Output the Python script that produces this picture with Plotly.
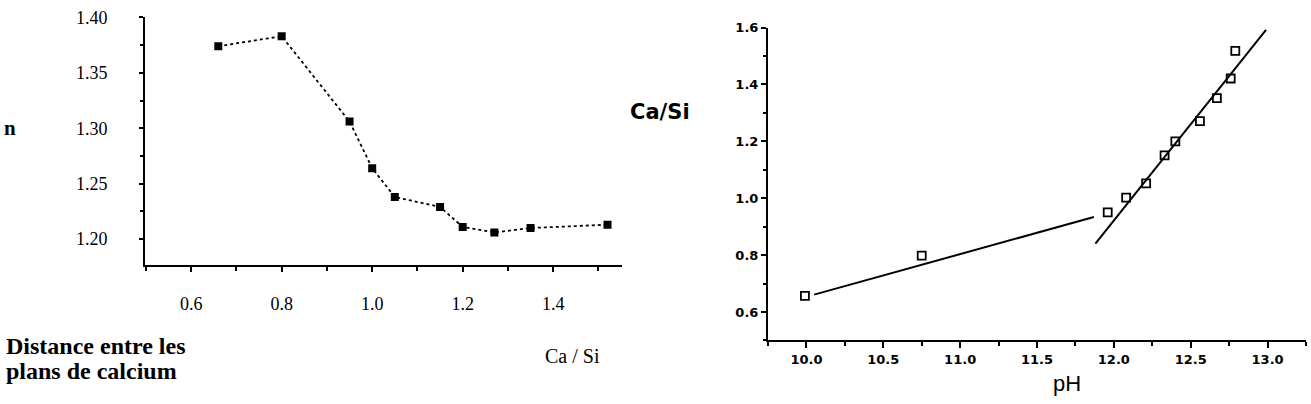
import plotly.graph_objects as go

# ---- Left chart data: distance between calcium planes vs Ca/Si ----
left_ca_si = [0.66, 0.80, 0.95, 1.00, 1.05, 1.15, 1.20, 1.27, 1.35, 1.52]
left_distance = [1.374, 1.383, 1.306, 1.264, 1.238, 1.229, 1.211, 1.206, 1.210, 1.213]

# ---- Right chart data: Ca/Si vs pH ----
right_ph = [9.99, 10.75, 11.96, 12.08, 12.21, 12.33, 12.40, 12.56, 12.67, 12.76, 12.79]
right_ca_si = [0.657, 0.798, 0.950, 1.002, 1.052, 1.151, 1.200, 1.271, 1.352, 1.421, 1.518]

# fitted straight lines (end points)
fit_low_ph = [10.05, 11.87]
fit_low_ca = [0.661, 0.934]
fit_high_ph = [11.88, 12.99]
fit_high_ca = [0.840, 1.592]

W, H = 1311, 404
fig = go.Figure()

fig.add_trace(go.Scatter(
    x=left_ca_si, y=left_distance, mode="lines+markers",
    line=dict(color="black", width=1.8, dash="dot"),
    marker=dict(symbol="square", size=8, color="black"),
    xaxis="x", yaxis="y", showlegend=False, hoverinfo="skip"))

fig.add_trace(go.Scatter(
    x=fit_low_ph, y=fit_low_ca, mode="lines",
    line=dict(color="black", width=2),
    xaxis="x2", yaxis="y2", showlegend=False, hoverinfo="skip"))
fig.add_trace(go.Scatter(
    x=fit_high_ph, y=fit_high_ca, mode="lines",
    line=dict(color="black", width=2),
    xaxis="x2", yaxis="y2", showlegend=False, hoverinfo="skip"))
fig.add_trace(go.Scatter(
    x=right_ph, y=right_ca_si, mode="markers",
    marker=dict(symbol="square-open", size=8, color="black", line=dict(width=1.8)),
    xaxis="x2", yaxis="y2", showlegend=False, hoverinfo="skip"))

serif = "Liberation Serif"
sans = "DejaVu Sans"

def px_x(p):
    return p / W

def px_y(p):
    return 1 - p / H

axis_common = dict(showline=True, linecolor="black", linewidth=2, showgrid=False,
                   zeroline=False, mirror=False, tickcolor="black", tickwidth=1.5)

fig.update_layout(
    width=W, height=H, margin=dict(l=0, r=0, t=0, b=0),
    paper_bgcolor="white", plot_bgcolor="white",
    xaxis=dict(domain=[px_x(145), px_x(622)], range=[0.498, 1.552], anchor="y",
               tick0=0.6, dtick=0.2, tickformat=".1f", ticks="outside", ticklen=5,
               minor=dict(dtick=0.1, ticks="outside", ticklen=4, tickcolor="black", showgrid=False),
               tickfont=dict(family=serif, size=18, color="black"), ticklabelstandoff=16,
               **axis_common),
    yaxis=dict(domain=[px_y(262), px_y(8)], range=[1.1765, 1.4005], anchor="x",
               tick0=1.2, dtick=0.05, tickformat=".2f", ticks="outside", ticklen=4,
               minor=dict(dtick=0.025, ticks="outside", ticklen=3, tickcolor="black", showgrid=False),
               tickfont=dict(family=serif, size=18, color="black"), ticklabelstandoff=28,
               **axis_common),
    xaxis2=dict(domain=[px_x(768), px_x(1306)], range=[9.75, 13.25], anchor="y2",
                tick0=10, dtick=0.5, tickformat=".1f", ticks="outside", ticklen=6,
                minor=dict(dtick=0.25, ticks="outside", ticklen=4, tickcolor="black", showgrid=False),
                tickfont=dict(family=sans, size=13, color="black", weight="bold"),
                **axis_common),
    yaxis2=dict(domain=[px_y(339), px_y(19)], range=[0.5, 1.6], anchor="x2",
                tick0=0.6, dtick=0.2, tickformat=".1f", ticks="outside", ticklen=5,
                minor=dict(dtick=0.1, ticks="outside", ticklen=3, tickcolor="black", showgrid=False),
                tickfont=dict(family=sans, size=13, color="black", weight="bold"),
                **axis_common),
)

annotations = [
    dict(text="n", x=px_x(2), y=px_y(122), xanchor="left", yanchor="middle",
         font=dict(family=serif, size=21, color="black", weight="bold")),
    dict(text="Distance entre les", x=px_x(4), y=px_y(345), xanchor="left", yanchor="middle",
         font=dict(family=serif, size=24, color="black", weight="bold")),
    dict(text="plans de calcium", x=px_x(4), y=px_y(370), xanchor="left", yanchor="middle",
         font=dict(family=serif, size=24, color="black", weight="bold")),
    dict(text="Ca / Si", x=px_x(572), y=px_y(355), xanchor="center", yanchor="middle",
         font=dict(family=serif, size=20, color="black")),
    dict(text="Ca/Si", x=px_x(660), y=px_y(105), xanchor="center", yanchor="middle",
         font=dict(family=sans, size=21, color="black", weight="bold")),
    dict(text="pH", x=px_x(1067), y=px_y(383), xanchor="center", yanchor="middle",
         font=dict(family="Liberation Sans", size=22, color="black")),
]
for a in annotations:
    a.update(xref="paper", yref="paper", showarrow=False)
fig.update_layout(annotations=annotations)

fig.write_html("out.html")
